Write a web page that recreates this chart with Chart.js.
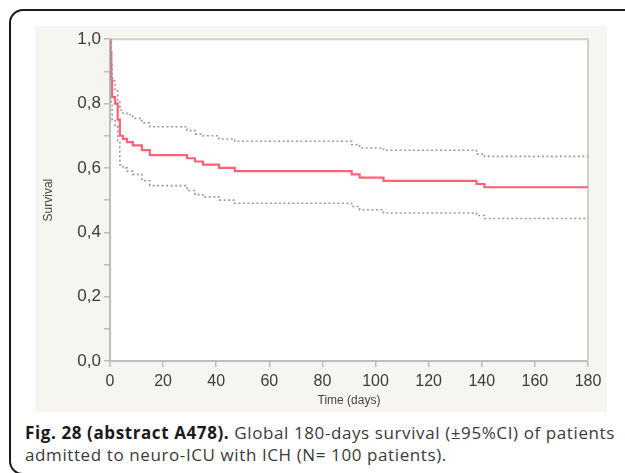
<!DOCTYPE html>
<html>
<head>
<meta charset="utf-8">
<script src="https://cdn.jsdelivr.net/npm/chart.js@4.4.0/dist/chart.umd.min.js"></script>
<style>
  body { margin: 0; background: #fff; width: 625px; height: 473px; position: relative; overflow: hidden; }
  #frame { position: absolute; left: 9px; top: 9px; width: 640px; height: 466px; border: 2px solid #1a1a1a; border-radius: 14px; box-sizing: border-box; }
  #panel { position: absolute; left: 35px; top: 26px; width: 572px; height: 386px; }
  #caption { position: absolute; left: 25px; top: 422px; font-family: "Open Sans", sans-serif; font-size: 17px; letter-spacing: 0.6px; line-height: 22px; color: #3a3a3a; white-space: nowrap; }
  #caption b { color: #1a1a1a; }
</style>
</head>
<body>
<div id="frame"></div>
<div id="panel"><canvas id="chart" width="572" height="386"></canvas></div>
<div id="caption"><b>Fig. 28 (abstract A478).</b> Global 180-days survival (±95%CI) of patients<br>admitted to neuro-ICU with ICH (N= 100 patients).</div>
<script>
// Kaplan-Meier steps (days -> survival)
const times    = [0, 0.2, 0.5, 0.8, 1.9, 2.9, 3.7, 4.9, 6.4, 8.6, 12, 15, 29, 32, 35, 41, 47, 91, 94, 103, 138, 141, 180];
const survival = [1.0, 0.96, 0.88, 0.82, 0.80, 0.75, 0.70, 0.69, 0.68, 0.67, 0.655, 0.64, 0.63, 0.62, 0.61, 0.60, 0.59, 0.58, 0.57, 0.56, 0.55, 0.54, 0.54];
const upperCI  = [1.0, 0.99, 0.92, 0.87, 0.84, 0.81, 0.78, 0.77, 0.766, 0.754, 0.74, 0.728, 0.716, 0.705, 0.70, 0.69, 0.683, 0.672, 0.662, 0.655, 0.643, 0.636, 0.636];
const lowerCI  = [1.0, 0.89, 0.80, 0.75, 0.73, 0.68, 0.61, 0.60, 0.59, 0.58, 0.56, 0.545, 0.53, 0.517, 0.51, 0.50, 0.49, 0.48, 0.47, 0.46, 0.452, 0.443, 0.443];

const xTicks = [0, 20, 40, 60, 80, 100, 120, 140, 160, 180];
const yTicks = ['0,0', '0,2', '0,4', '0,6', '0,8', '1,0'];

function toPoints(ys) {
    return times.map((t, i) => ({ x: t, y: ys[i] }));
}

const backdrop = {
    id: 'backdrop',
    beforeDraw(chart) {
        const { ctx, chartArea: a } = chart;
        ctx.save();
        ctx.fillStyle = '#f6f5f2';
        ctx.fillRect(0, 0, chart.width, chart.height);
        ctx.fillStyle = '#ffffff';
        ctx.fillRect(a.left, a.top, a.right - a.left, a.bottom - a.top);
        ctx.restore();
    },
    beforeDatasetsDraw(chart) {
        const { ctx, chartArea: a } = chart;
        ctx.save();
        ctx.strokeStyle = '#cfcfcf';
        ctx.lineWidth = 2;
        ctx.beginPath();
        ctx.moveTo(a.left, a.top);
        ctx.lineTo(a.right, a.top);
        ctx.lineTo(a.right, a.bottom);
        ctx.stroke();
        ctx.restore();
    }
};

const ciStyle = {
    borderColor: '#9c9c9c',
    borderWidth: 1.6,
    borderDash: [2, 2.5],
    pointRadius: 0,
    stepped: 'before',
    fill: false
};

new Chart(document.getElementById('chart'), {
    type: 'line',
    data: {
        datasets: [
            Object.assign({ label: 'Upper 95% CI', data: toPoints(upperCI) }, ciStyle),
            Object.assign({ label: 'Lower 95% CI', data: toPoints(lowerCI) }, ciStyle),
            {
                label: 'Survival',
                data: toPoints(survival),
                borderColor: '#ff6276',
                borderWidth: 2.2,
                pointRadius: 0,
                stepped: 'before',
                fill: false
            }
        ]
    },
    options: {
        responsive: false,
        animation: false,
        layout: { padding: { top: 10, right: 19, left: 0, bottom: 0 } },
        plugins: { legend: { display: false }, tooltip: { enabled: false } },
        scales: {
            x: {
                type: 'linear',
                min: 0,
                max: 180,
                afterBuildTicks: s => { s.ticks = xTicks.map(v => ({ value: v })); },
                afterFit: s => { s.height = 51; },
                ticks: {
                    color: '#3c3c3c',
                    font: { family: 'Liberation Sans', size: 16 },
                    padding: 5,
                    maxRotation: 0
                },
                grid: { drawOnChartArea: false, tickLength: 6, color: '#bdbdbd', lineWidth: 1.5 },
                border: { color: '#bdbdbd', width: 2 },
                title: {
                    display: true,
                    text: 'Time (days)',
                    color: '#444',
                    font: { family: 'Liberation Sans', size: 12 },
                    padding: { top: 0, bottom: 4 }
                }
            },
            y: {
                min: 0,
                max: 1,
                afterBuildTicks: s => {
                    const t = [];
                    for (let i = 0; i <= 10; i++) t.push({ value: i / 10 });
                    s.ticks = t;
                },
                afterFit: s => { s.width = 75; },
                ticks: {
                    color: '#3c3c3c',
                    font: { family: 'Liberation Sans', size: 17 },
                    padding: 3,
                    callback: (v, i) => (i % 2 === 0 ? yTicks[i / 2] : '')
                },
                grid: { drawOnChartArea: false, tickLength: 6, color: '#bdbdbd', lineWidth: 1.5 },
                border: { color: '#bdbdbd', width: 2 },
                title: {
                    display: true,
                    text: 'Survival',
                    color: '#444',
                    font: { family: 'Liberation Sans', size: 12 },
                    padding: { top: 6, bottom: 0 }
                }
            }
        }
    },
    plugins: [backdrop]
});
</script>
</body>
</html>
